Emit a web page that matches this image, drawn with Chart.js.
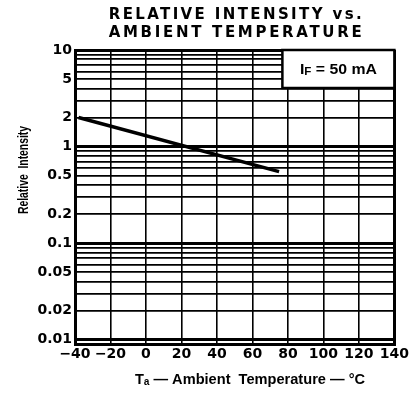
<!DOCTYPE html>
<html><head><meta charset="utf-8">
<style>html,body{margin:0;padding:0;background:#fff}#wrap{width:411px;height:400px}</style>
<script src="https://cdn.jsdelivr.net/npm/chart.js@4.4.0/dist/chart.umd.min.js"></script>
</head><body><div id="wrap"><canvas id="c" width="411" height="400"></canvas></div>
<script>
const titleLines = ['RELATIVE INTENSITY vs.', 'AMBIENT TEMPERATURE'];
const xAxisTitle = 'T\u2090 \u2014 Ambient  Temperature \u2014 \u00B0C';
const yAxisTitle = 'Relative  Intensity';
const conditionMain = 'I';
const conditionSub = 'F';
const conditionRest = ' = 50 mA';
const temperature = [-38, 75];
const intensity = [2.0, 0.55];
const xTicks = [-40, -20, 0, 20, 40, 60, 80, 100, 120, 140];
const yGridValues = [0.01, 0.02, 0.03, 0.04, 0.05, 0.06, 0.07, 0.08, 0.09,
  0.1, 0.2, 0.3, 0.4, 0.5, 0.6, 0.7, 0.8, 0.9,
  1, 2, 3, 4, 5, 6, 7, 8, 9, 10];
const yTickLabels = [0.01, 0.02, 0.05, 0.1, 0.2, 0.5, 1, 2, 5, 10];
const yDecades = [0.01, 0.1, 1, 10];

const SANS = "'Liberation Sans','Arial',sans-serif";

function fitSpaced(ctx, text, left, y, w) {
  ctx.letterSpacing = '0px';
  const n = [...text].length;
  const m = ctx.measureText(text).width;
  const sp = (w - m) / (n - 1);
  ctx.letterSpacing = sp + 'px';
  ctx.textAlign = 'left';
  ctx.fillText(text, left, y);
  ctx.letterSpacing = '0px';
}
function fitScaled(ctx, text, cx, y, w) {
  const m = ctx.measureText(text).width;
  ctx.save();
  ctx.translate(cx, y);
  ctx.scale(w / m, 1);
  ctx.textAlign = 'center';
  ctx.fillText(text, 0, 0);
  ctx.restore();
}

const overlay = {
  id: 'overlay',
  afterDatasetsDraw(chart) {
    const ctx = chart.ctx, a = chart.chartArea;
    ctx.save();
    const bw = 112, bh = 38;
    const bx = a.right - bw, by = a.top;
    ctx.fillStyle = '#fff';
    ctx.fillRect(bx, by, bw, bh);
    ctx.strokeStyle = '#000';
    ctx.lineWidth = 2.5;
    ctx.strokeRect(bx, by, bw, bh);
    ctx.fillStyle = '#000';
    ctx.textBaseline = 'alphabetic';
    ctx.textAlign = 'left';
    const big = "bold 15px " + SANS, small = "bold 11px " + SANS;
    ctx.font = big;
    const w1 = ctx.measureText(conditionMain).width;
    ctx.font = small;
    const w2 = ctx.measureText(conditionSub).width;
    ctx.font = big;
    const w3 = ctx.measureText(conditionRest).width;
    const total = w1 + w2 + w3;
    const sx = 77 / total;
    ctx.translate(bx + bw / 2 - 77 / 2, by + bh / 2 + 5);
    ctx.scale(sx, 1);
    let tx = 0;
    ctx.fillText(conditionMain, tx, 0); tx += w1;
    ctx.font = small;
    ctx.fillText(conditionSub, tx, 1); tx += w2;
    ctx.font = big;
    ctx.fillText(conditionRest, tx, 0);
    ctx.restore();
  },
  afterDraw(chart) {
    const ctx = chart.ctx, a = chart.chartArea;
    ctx.save();
    ctx.fillStyle = '#000';
    ctx.textBaseline = 'alphabetic';
    ctx.font = "bold 15px 'DejaVu Sans',sans-serif";
    const cx = (a.left + a.right) / 2;
    fitSpaced(ctx, titleLines[0], cx - 126, 19, 253);
    fitSpaced(ctx, titleLines[1], cx - 126, 36.5, 253);
    ctx.font = "bold 15px " + SANS;
    fitScaled(ctx, xAxisTitle, 250, 384, 230);
    ctx.translate(28, 170);
    ctx.rotate(-Math.PI / 2);
    ctx.font = "bold 14px " + SANS;
    fitScaled(ctx, yAxisTitle, 0, 0, 88);
    ctx.restore();
  }
};

new Chart(document.getElementById('c'), {
  type: 'line',
  data: {
    datasets: [{
      data: temperature.map((t, i) => ({ x: t, y: intensity[i] })),
      borderColor: '#000',
      borderWidth: 3.5,
      pointRadius: 0,
      fill: false,
      tension: 0
    }]
  },
  options: {
    responsive: false,
    animation: false,
    devicePixelRatio: 1,
    layout: { padding: { top: 50, left: 0, right: 0, bottom: 0 } },
    plugins: { legend: { display: false }, title: { display: false }, tooltip: { enabled: false } },
    scales: {
      x: {
        type: 'linear', min: -40, max: 140,
        afterBuildTicks: s => { s.ticks = xTicks.map(v => ({ value: v })); },
        afterFit: s => { s.height = 56; },
        ticks: {
          autoSkip: false, maxRotation: 0, padding: 2, color: '#000',
          font: { family: 'DejaVu Sans', weight: 'bold', size: 14 },
          callback: v => v < 0 ? '\u2212' + Math.abs(v) : String(v)
        },
        grid: {
          color: '#000', drawTicks: false,
          lineWidth: c => (c.tick && (c.tick.value === xTicks[0] || c.tick.value === xTicks[xTicks.length - 1])) ? 3 : 1.6
        },
        border: { display: true, color: '#000', width: 3 }
      },
      y: {
        type: 'logarithmic', min: 0.009, max: 10,
        afterBuildTicks: s => { s.ticks = yGridValues.map(v => ({ value: v })); },
        afterFit: s => { s.width = 75; },
        ticks: {
          autoSkip: false, padding: 3, color: '#000',
          font: { family: 'DejaVu Sans', weight: 'bold', size: 14 },
          callback: v => yTickLabels.includes(v) ? String(v) : ''
        },
        grid: {
          color: '#000', drawTicks: false,
          lineWidth: c => (c.tick && yDecades.includes(c.tick.value)) ? 3 : 1.8
        },
        border: { display: true, color: '#000', width: 3 }
      }
    }
  },
  plugins: [overlay]
});
</script></body></html>
